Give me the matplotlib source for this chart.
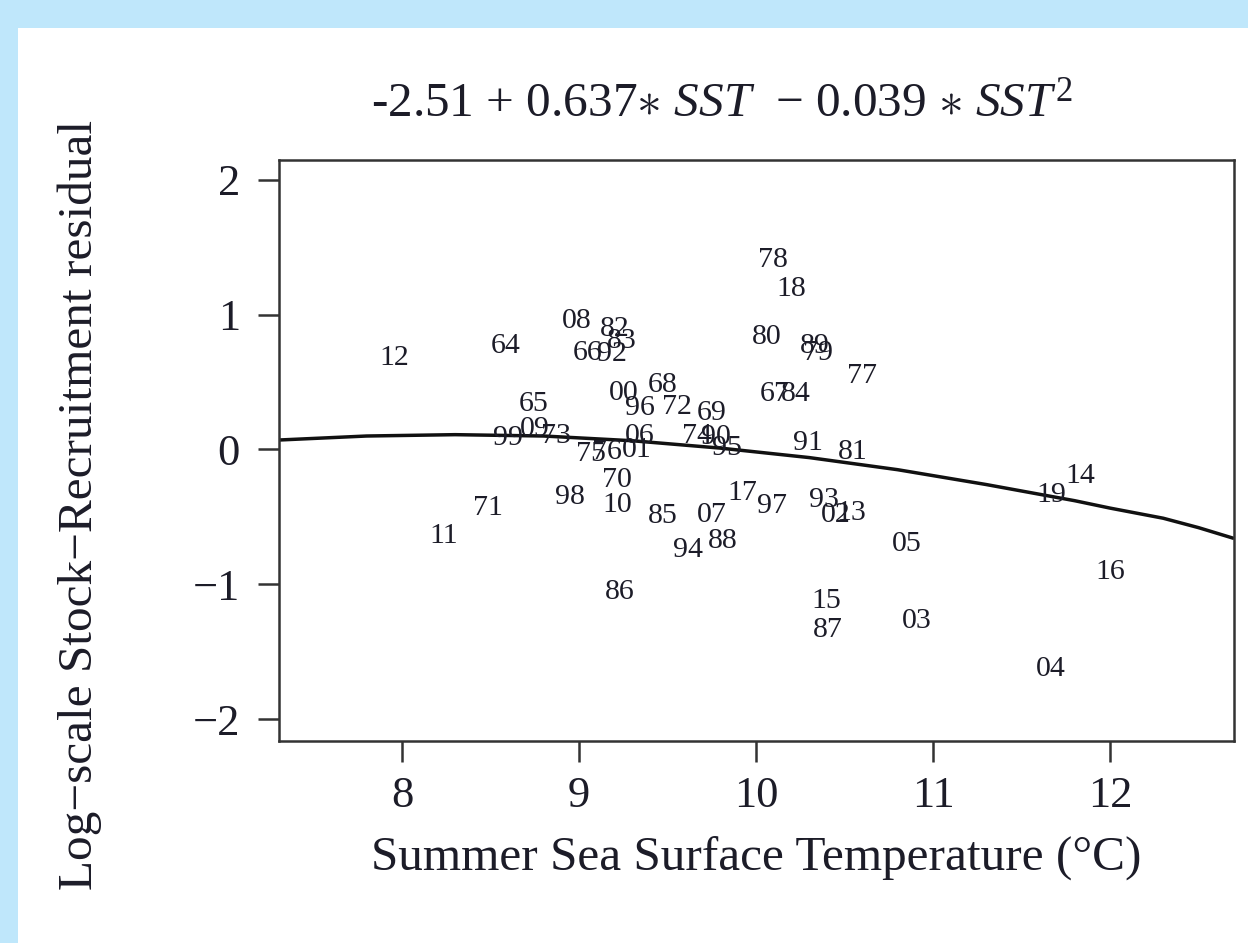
import matplotlib
matplotlib.use("Agg")
import matplotlib.pyplot as plt
from matplotlib.patches import Rectangle

# ---- data ----
years = ["12", "64", "08", "82", "83", "66", "92", "78", "18", "80", "89", "79",
         "77", "67", "84", "65", "00", "68", "96", "72", "69", "99", "09", "73",
         "06", "74", "90", "95", "75", "76", "01", "91", "81", "70", "98", "10",
         "85", "07", "17", "97", "93", "02", "13", "71", "11", "94", "88", "05",
         "86", "15", "87", "03", "04", "19", "14", "16"]
sst = [7.955, 8.588, 8.989, 9.203, 9.243, 9.051, 9.186, 10.096, 10.198, 10.062, 10.333, 10.350,
       10.599, 10.107, 10.226, 8.746, 9.254, 9.475, 9.345, 9.554, 9.751, 8.599, 8.751, 8.870,
       9.345, 9.667, 9.774, 9.836, 9.068, 9.158, 9.328, 10.294, 10.548, 9.215, 8.949, 9.215,
       9.475, 9.751, 9.921, 10.090, 10.384, 10.452, 10.537, 8.486, 8.237, 9.616, 9.814, 10.853,
       9.232, 10.395, 10.407, 10.910, 11.667, 11.667, 11.831, 12.000]
resid = [0.679, 0.768, 0.954, 0.894, 0.805, 0.716, 0.709, 1.406, 1.191, 0.835, 0.768, 0.716,
         0.545, 0.412, 0.412, 0.338, 0.419, 0.479, 0.308, 0.315, 0.271, 0.085, 0.152, 0.100,
         0.100, 0.100, 0.093, 0.011, -0.033, -0.019, -0.004, 0.048, -0.019, -0.226, -0.353, -0.412,
         -0.494, -0.486, -0.323, -0.419, -0.375, -0.486, -0.471, -0.434, -0.642, -0.746, -0.679, -0.701,
         -1.058, -1.124, -1.340, -1.273, -1.629, -0.338, -0.197, -0.909]

# fitted curve
curve_x = [7.3, 7.8, 8.3, 8.8, 9.3, 9.8, 10.3, 10.8, 11.3, 11.8, 12.0, 12.3, 12.5, 12.7]
curve_y = [0.07, 0.10, 0.11, 0.10, 0.065, 0.01, -0.06, -0.15, -0.26, -0.38, -0.435, -0.51, -0.58, -0.66]

x_ticks = [8, 9, 10, 11, 12]
y_ticks = [-2, -1, 0, 1, 2]
y_tick_labels = ["\u22122", "\u22121", "0", "1", "2"]

title = r"-2.51 + 0.637$\ast$ $\mathit{SST}$  $-$ 0.039 $\ast$ $\mathit{SST}^2$"
xlabel = "Summer Sea Surface Temperature (\u00b0C)"
ylabel = "Log\u2212scale Stock\u2212Recruitment residual"

# ---- style ----
plt.rcParams["font.family"] = ["Liberation Serif", "DejaVu Serif"]
plt.rcParams["mathtext.fontset"] = "custom"
plt.rcParams["mathtext.rm"] = "Liberation Serif"
plt.rcParams["mathtext.it"] = "Liberation Serif:italic"
TXT = "#1c1c28"

W, H = 1248, 943
fig = plt.figure(figsize=(W / 100, H / 100), dpi=100)
fig.patch.set_facecolor("#bfe7fb")
fig.patches.append(Rectangle((18 / W, 0), 1, 1 - 28 / H, transform=fig.transFigure,
                             facecolor="white", edgecolor="none", zorder=-10))

ax = fig.add_axes([279 / W, 1 - 741 / H, (1234 - 279) / W, (741 - 160) / H])
ax.set_zorder(5)
ax.set_facecolor("white")
ax.set_xlim(7.305, 12.70)
ax.set_ylim(-2.163, 2.148)

ax.plot(curve_x, curve_y, color="#111111", lw=2.5, solid_capstyle="butt", zorder=2)
for lab, xv, yv in zip(years, sst, resid):
    ax.text(xv, yv, lab, ha="center", va="center", fontsize=21.5, color=TXT, zorder=3)

for s in ax.spines.values():
    s.set_linewidth(1.8)
    s.set_color("#333333")

ax.set_xticks(x_ticks)
ax.set_xticklabels([str(t) for t in x_ticks])
ax.set_yticks(y_ticks)
ax.set_yticklabels(y_tick_labels)
ax.tick_params(axis="both", direction="out", length=15, width=1.8, color="#333333",
               labelsize=32, labelcolor=TXT)
ax.tick_params(axis="x", pad=10)
ax.tick_params(axis="y", pad=13)

ax.set_xlabel(xlabel, fontsize=35.5, color=TXT, labelpad=14)
fig.text(80 / W, 1 - 505 / H, ylabel, rotation=90, ha="center", va="center",
         fontsize=35.5, color=TXT)
fig.text(722 / W, 1 - 104 / H, title, ha="center", va="center", fontsize=35.5, color=TXT)

fig.savefig("out.png", dpi=100)
